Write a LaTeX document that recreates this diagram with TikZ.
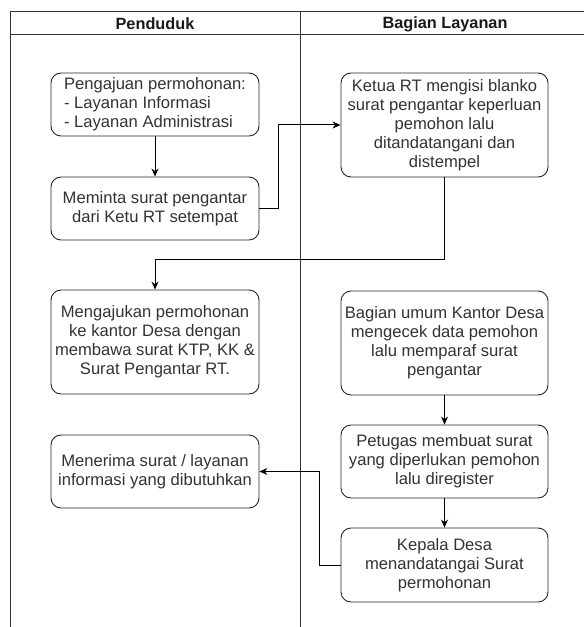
\documentclass[tikz,border=0pt]{standalone}
\usepackage{fontspec}
\setmainfont{Liberation Sans}
\usetikzlibrary{arrows.meta}
\definecolor{txt}{HTML}{333333}
\tikzset{
  box/.style={draw=black!85, line width=0.9bp, rounded corners=10bp, minimum width=208bp,
    align=center, text=txt, font=\fontsize{16.6bp}{19bp}\selectfont, inner sep=2bp},
  lane/.style={draw=black!80, line width=1bp},
  conn/.style={draw=black, line width=1bp},
  arr/.style={conn, -{Stealth[length=8bp,width=7bp]}},
  hdr/.style={font=\bfseries\fontsize{16.3bp}{18bp}\selectfont, text=black!90}
}
\begin{document}
\begin{tikzpicture}[x=1bp,y=-1bp]
\useasboundingbox (0,0) rectangle (584,627);
\fill[white] (0,0) rectangle (584,627);
\begin{scope}
\clip (0,0) rectangle (584,627);
\draw[lane] (10,640) -- (10,12) -- (600,12);
\draw[lane] (10,35) -- (600,35);
\draw[lane] (300,12) -- (300,640);
\draw[lane] (590,12) -- (590,640);
\end{scope}
\node[hdr] (h1) at (155,24) {Penduduk};
\node[hdr] (h2) at (445,24) {Bagian Layanan};

\node[box, minimum height=63bp] (b1) at (155,104.5) {\begin{tabular}{@{}l@{}}Pengajuan permohonan:\\- Layanan Informasi\\- Layanan Administrasi\end{tabular}};
\node[box, minimum height=63bp] (b2) at (155,208.5) {Meminta surat pengantar\\dari Ketu RT setempat};
\node[box, minimum height=104bp, minimum width=207bp] (b3) at (444.5,125) {Ketua RT mengisi blanko\\surat pengantar keperluan\\pemohon lalu\\ditandatangani dan\\distempel};
\node[box, minimum height=104bp] (b4) at (155,342) {Mengajukan permohonan\\ke kantor Desa dengan\\membawa surat KTP, KK \&\\Surat Pengantar RT.};
\node[box, minimum height=104bp, minimum width=207bp] (b5) at (444.5,343) {Bagian umum Kantor Desa\\mengecek data pemohon\\lalu memparaf surat\\pengantar};
\node[box, minimum height=73bp, minimum width=207bp] (b6) at (444.5,461.5) {Petugas membuat surat\\yang diperlukan pemohon\\lalu diregister};
\node[box, minimum height=74bp, minimum width=207bp] (b7) at (444.5,565) {Kepala Desa\\menandatangai Surat\\permohonan};
\node[box, minimum height=73bp] (b8) at (155,471.5) {Menerima surat / layanan\\informasi yang dibutuhkan};

\draw[arr] (b1) -- (b2);
\draw[arr] (b2.east) -- ++(19,0) |- (b3.west);
\draw[arr] (b3.south) -- ++(0,82) -| (b4.north);
\draw[arr] (b5) -- (b6);
\draw[arr] (b6) -- (b7);
\draw[arr] (b7.west) -- ++(-21,0) |- (b8.east);
\end{tikzpicture}
\end{document}
